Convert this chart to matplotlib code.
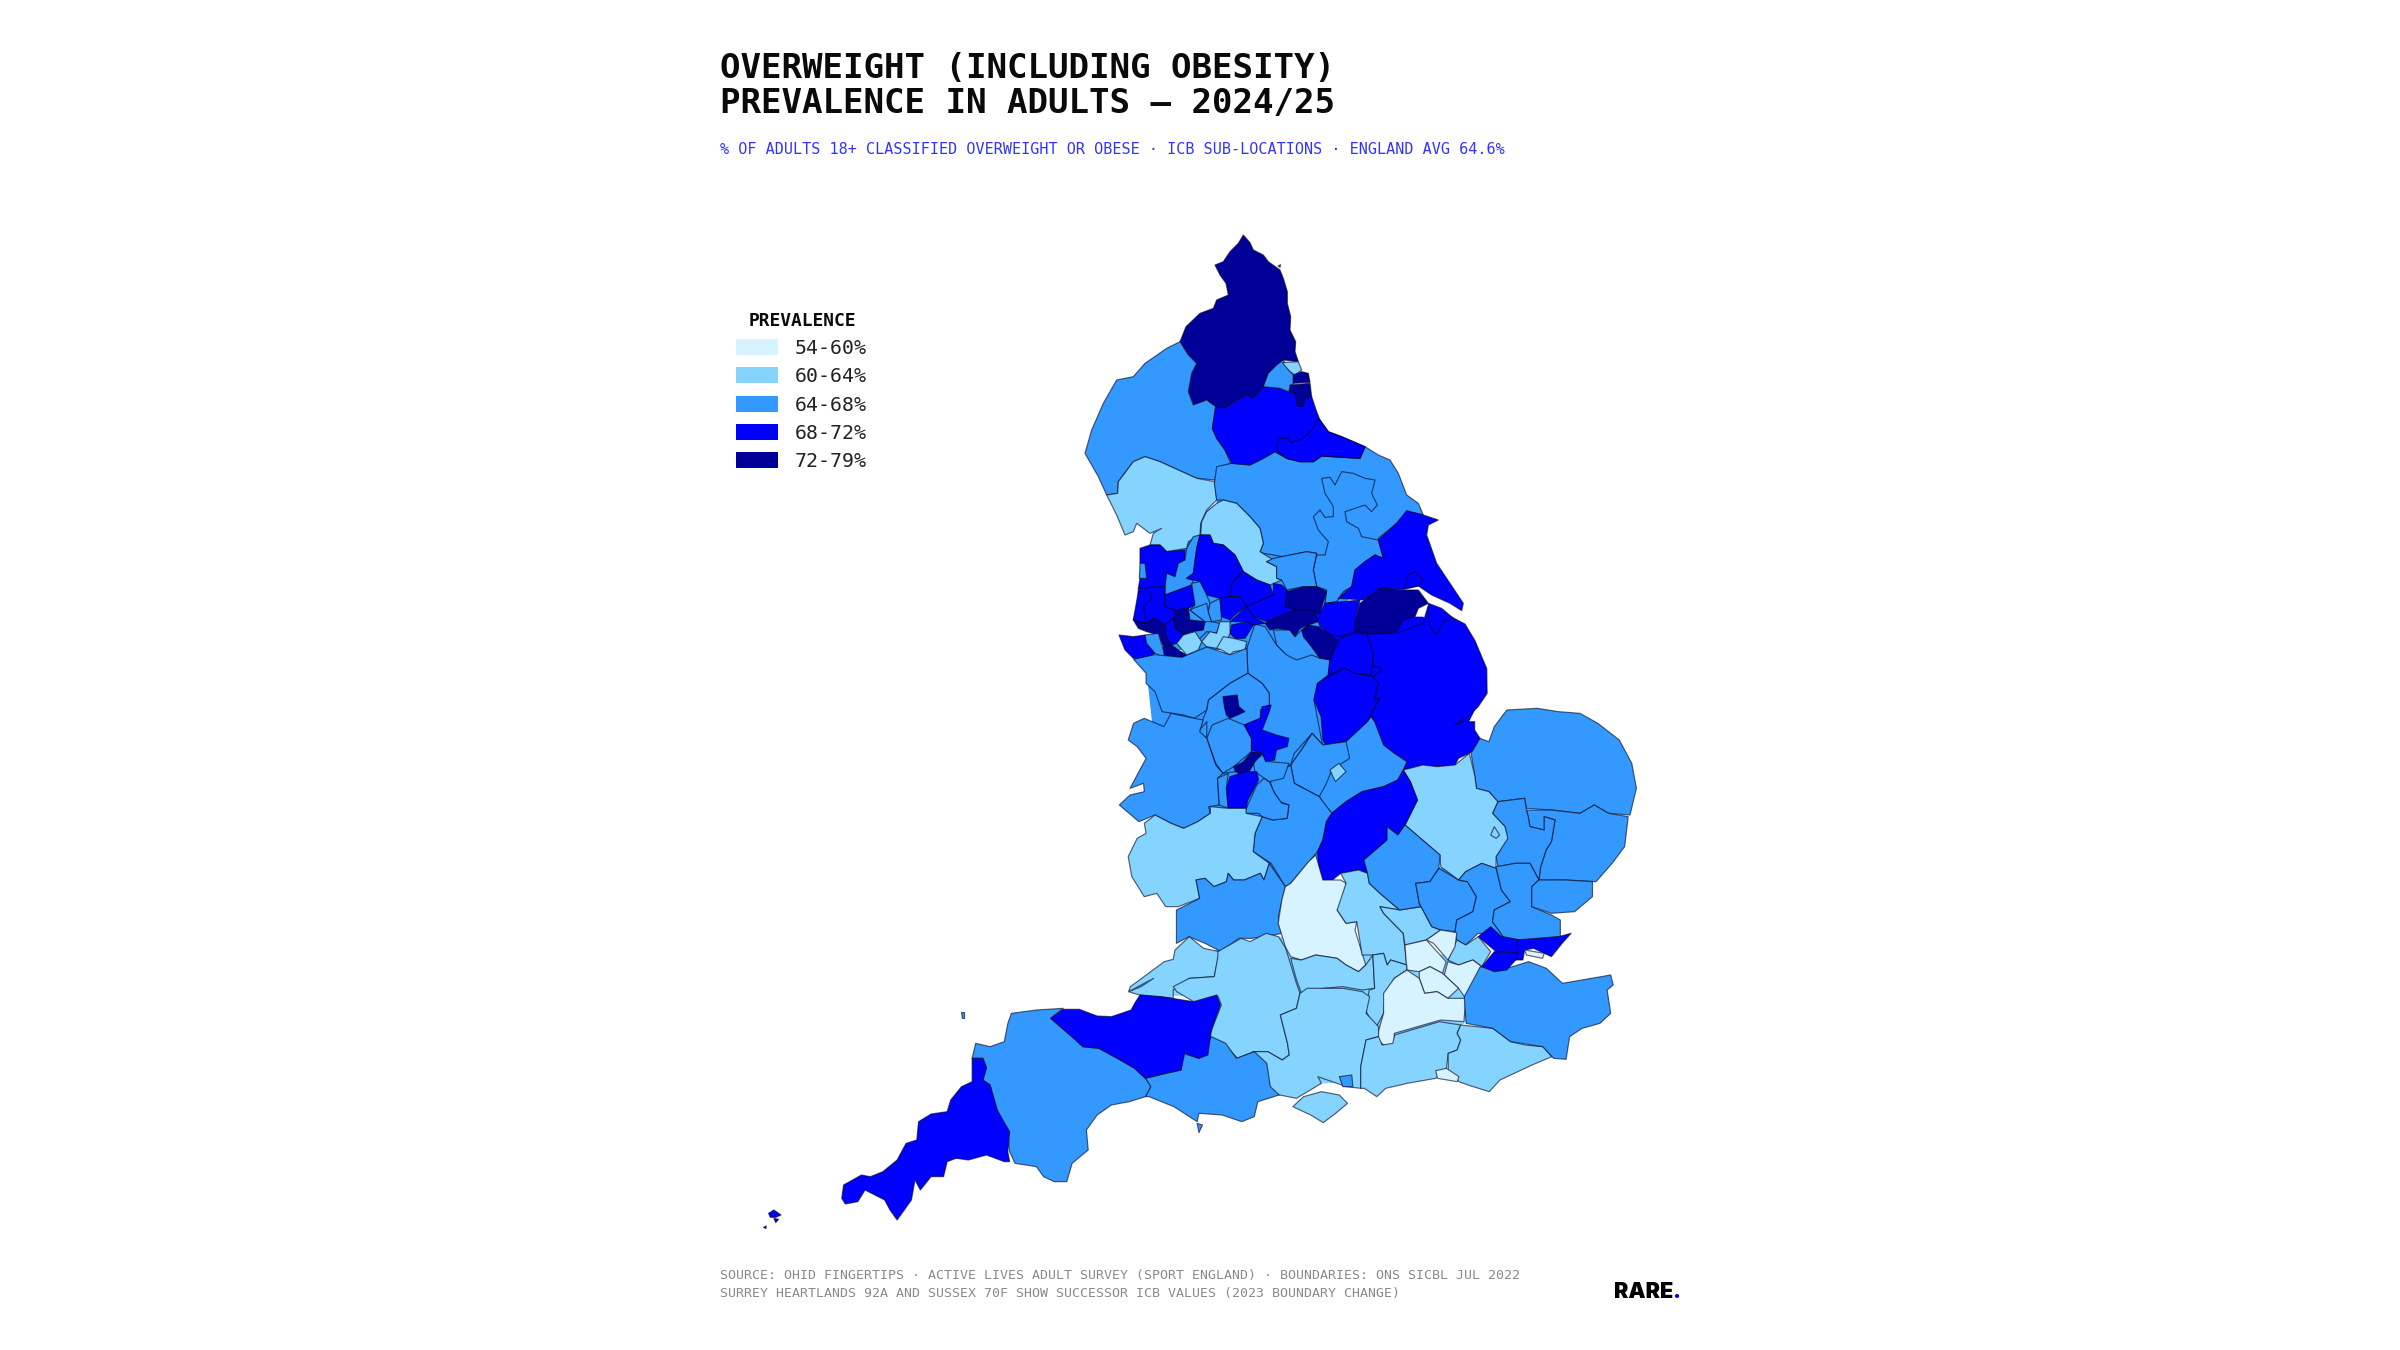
import matplotlib
matplotlib.use("Agg")
import matplotlib.pyplot as plt
from matplotlib.patches import Polygon, Rectangle

TITLE_LINES = ["OVERWEIGHT (INCLUDING OBESITY)", "PREVALENCE IN ADULTS \u2014 2024/25"]
SUBTITLE = "% OF ADULTS 18+ CLASSIFIED OVERWEIGHT OR OBESE \u00b7 ICB SUB-LOCATIONS \u00b7 ENGLAND AVG 64.6%"
FOOTER_LINES = ["SOURCE: OHID FINGERTIPS \u00b7 ACTIVE LIVES ADULT SURVEY (SPORT ENGLAND) \u00b7 BOUNDARIES: ONS SICBL JUL 2022",
                "SURREY HEARTLANDS 92A AND SUSSEX 70F SHOW SUCCESSOR ICB VALUES (2023 BOUNDARY CHANGE)"]
LEGEND_TITLE = "PREVALENCE"
BAND_LABELS = ["54-60%", "60-64%", "64-68%", "68-72%", "72-79%"]
BAND_COLOURS = ["#D6F3FF", "#85D3FF", "#3399FF", "#0000FF", "#000099"]

# Map sheets: (left, top, x scale, y scale) of each digitised sheet of the boundary data
SHEETS = {"A": (1050, 220, 3.0, 3.0), "B": (1080, 650, 2.8, 3.0),
          "C": (1100, 880, 2.8, 3.0), "D": (740, 980, 2.8, 3.0)}

# Interior land under the region outlines: (band index, sheet, outline)
LAND = [
    (2, "A", [(500,750),(1000,720),(1050,900),(900,1130),(800,1300),(600,1290),(350,1290),(290,1100),(300,1000),(500,850)]),
    (2, "B", [(190,100),(470,30),(700,100),(830,210),(900,400),(1000,650),(1150,700),(1150,850),(1000,840),(800,650),(600,700),(480,650),(350,520),(250,500),(190,470),(210,300)]),
    (3, "B", [(690,-100),(960,-100),(1100,0),(1120,150),(1040,320),(880,300),(700,280),(660,100)]),
    (1, "C", [(120,345),(340,200),(500,170),(800,200),(1070,240),(1020,430),(780,600),(480,620),(320,480),(335,350)]),
]

# Boundary data: (band index, sheet, outline), drawn in this order
R = []
def region(band, sheet, outline):
    R.append((band, sheet, outline))

# ---- North
region(4, "A", [(580,45),(600,68),(610,90),(640,105),(655,125),(690,150),(700,175),(712,215),(712,250),(722,290),(720,330),(737,365),(735,395),(745,425),(700,420),(680,435),(655,460),(640,500),(610,535),(590,525),(545,550),(525,565),(497,560),(470,540),(430,555),(415,515),(425,460),(440,430),(415,405),(390,365),(408,320),(450,280),(490,265),(500,240),(535,225),(528,190),(510,165),(495,135),(520,125),(540,95),(565,70)])
region(2, "A", [(390,365),(415,405),(440,430),(425,460),(415,515),(430,555),(470,540),(497,560),(487,625),(500,655),(525,690),(542,730),(505,745),(495,780),(440,775),(385,750),(330,725),(285,710),(250,725),(205,785),(203,820),(170,825),(145,770),(105,700),(125,630),(160,550),(200,480),(250,470),(285,430),(350,385)])
region(1, "A", [(170,825),(203,820),(205,785),(250,725),(285,710),(330,725),(385,750),(440,775),(495,785),(500,840),(470,870),(452,910),(450,945),(415,965),(410,985),(350,995),(330,975),(300,975),(310,940),(335,925),(300,940),(260,910),(250,935),(225,945),(200,885)])
region(2, "A", [(500,740),(545,730),(600,735),(640,715),(675,695),(710,715),(750,725),(790,725),(815,708),(930,715),(945,680),(985,705),(1020,720),(1045,760),(1070,825),(1105,850),(1120,885),(1070,875),(1040,910),(985,955),(1000,1015),(975,1005),(945,1025),(915,1050),(905,1100),(880,1115),(860,1145),(825,1150),(830,1115),(800,1100),(790,1050),(800,1000),(770,995),(700,1010),(640,1000),(630,995),(640,970),(630,925),(600,890),(560,850),(520,840),(500,840),(493,790)])
region(2, "A", [(815,775),(840,772),(855,795),(875,755),(910,760),(945,775),(975,780),(965,820),(982,855),(965,875),(945,855),(885,875),(890,905),(925,925),(935,950),(985,960),(1000,1015),(975,1005),(945,1025),(915,1050),(905,1100),(880,1115),(860,1145),(825,1150),(830,1110),(800,1100),(790,1050),(800,1005),(825,1005),(835,965),(805,930),(790,890),(810,870),(825,892),(850,890),(850,860),(825,820)])
region(1, "A", [(500,850),(520,840),(560,850),(600,890),(630,925),(640,970),(630,995),(670,1020),(650,1025),(680,1040),(680,1075),(695,1080),(660,1095),(620,1080),(580,1055),(555,1005),(520,975),(490,970),(480,945),(452,945),(455,905),(470,875)])
region(2, "A", [(670,1015),(770,995),(800,1000),(790,1050),(800,1100),(760,1100),(710,1110),(695,1080),(680,1075),(680,1040),(650,1025)])
region(3, "A", [(497,560),(525,565),(545,550),(590,525),(610,535),(640,500),(690,505),(715,515),(735,520),(745,558),(760,558),(765,535),(785,530),(800,575),(810,600),(835,635),(875,650),(945,680),(930,715),(815,708),(790,725),(750,725),(710,715),(675,695),(640,715),(600,735),(545,730),(525,690),(500,655),(487,625)])
region(3, "A", [(800,600),(810,600),(835,635),(875,650),(945,680),(930,715),(815,708),(790,725),(750,725),(710,715),(680,690),(685,655),(715,655),(720,668),(760,655),(790,625)])
region(2, "A", [(640,500),(655,460),(680,435),(700,420),(720,455),(730,465),(730,490),(715,515),(690,505)])
region(1, "A", [(697,428),(745,425),(755,450),(735,465),(720,455)])
region(4, "A", [(730,465),(755,455),(775,460),(780,487),(730,490)])
region(4, "A", [(720,495),(780,490),(785,530),(765,535),(760,558),(742,558),(735,520),(718,515)])
region(3, "A", [(1070,872),(1120,885),(1165,900),(1135,915),(1130,945),(1160,1030),(1200,1090),(1240,1150),(1235,1172),(1200,1150),(1145,1125),(1105,1098),(1062,1108),(1000,1105),(940,1140),(865,1135),(905,1100),(915,1050),(945,1025),(975,1005),(1000,1015),(985,960),(1040,910)])
region(3, "A", [(1065,1105),(1075,1065),(1095,1055),(1120,1080),(1105,1098)])
# ---- Lincolnshire and Yorkshire south
region(3, "B", [(803,-48),(887,-50),(960,-80),(974,-130),(1012,-115),(1078,-78),(1106,-28),(1139,56),(1140,130),(1115,170),(1085,200),(1050,225),(1075,215),(1105,215),(1105,240),(1120,265),(1110,295),(1090,310),(1060,325),(1050,345),(1000,350),(960,345),(905,360),(915,335),(880,310),(850,285),(825,215),(815,190),(840,145),(825,150),(835,100),(820,80),(845,60),(835,50),(821,50),(821,8)])
region(3, "A", [(1135,1150),(1175,1165),(1210,1195),(1180,1205),(1160,1245),(1140,1220),(1135,1180)])
region(4, "A", [(990,1105),(1010,1105),(1060,1110),(1105,1110),(1135,1150),(1105,1165),(1095,1190),(1060,1200),(1040,1235),(1005,1240),(950,1240),(915,1235),(915,1210),(930,1150)])
region(3, "A", [(825,1150),(930,1140),(915,1210),(915,1235),(870,1250),(845,1245),(810,1220),(805,1205),(790,1170),(810,1180)])
# ---- Midlands base
region(2, "B", [(490,-78),(518,-70),(551,-14),(579,14),(649,14),(672,22),(700,28),(695,75),(665,100),(655,150),(680,290),(650,250),(600,310),(590,345),(530,385),(500,330),(480,260),(460,225),(505,205),(530,165),(530,130),(510,100),(470,70),(467,-5)])
region(2, "A", [(670,1230),(720,1230),(735,1250),(755,1230),(785,1280),(810,1315),(785,1305),(740,1320),(710,1305),(680,1275)])
region(3, "B", [(728,-35),(770,-50),(803,-48),(821,8),(815,75),(770,70),(740,55),(695,75),(700,28)])
region(3, "B", [(665,100),(740,55),(770,70),(820,80),(835,100),(825,150),(840,145),(815,190),(805,215),(770,250),(745,275),(690,290),(680,270),(675,200),(655,150)])
# ---- Pennine belt
region(3, "A", [(270,985),(300,975),(330,975),(350,995),(405,990),(405,1020),(385,1030),(375,1070),(350,1060),(345,1100),(265,1105),(270,1075),(290,1075),(285,1030),(270,1030)])
region(2, "A", [(270,1030),(285,1030),(290,1075),(268,1075)])
region(2, "A", [(345,1105),(350,1060),(375,1070),(385,1030),(405,1020),(410,985),(430,950),(450,945),(440,985),(430,1060),(410,1075),(430,1080),(425,1095),(345,1125)])
region(3, "A", [(450,945),(480,945),(490,970),(520,975),(555,1005),(580,1055),(545,1090),(540,1130),(510,1135),(470,1125),(450,1085),(410,1075),(430,1060),(440,985)])
region(3, "A", [(580,1055),(620,1080),(660,1095),(670,1125),(590,1160),(570,1130),(540,1130),(545,1090)])
region(3, "A", [(670,1090),(695,1095),(715,1115),(705,1160),(740,1170),(650,1205),(610,1190),(590,1160),(670,1125)])
region(4, "A", [(710,1115),(760,1100),(800,1100),(830,1115),(820,1145),(810,1180),(740,1170),(705,1160)])
region(4, "A", [(645,1210),(705,1180),(740,1170),(790,1170),(805,1205),(775,1215),(750,1225),(735,1250),(720,1230),(680,1225),(660,1230)])
region(4, "A", [(755,1230),(775,1215),(805,1220),(860,1260),(840,1320),(810,1315),(785,1280),(760,1250)])
region(3, "A", [(265,1105),(345,1100),(345,1160),(375,1170),(370,1195),(345,1215),(310,1195),(290,1210),(250,1200),(265,1145)])
region(3, "A", [(265,1115),(300,1115),(305,1135),(280,1160),(290,1210),(250,1200)])
region(3, "A", [(345,1125),(400,1105),(425,1095),(435,1155),(415,1165),(375,1170),(345,1160)])
region(2, "A", [(425,1090),(450,1085),(470,1125),(480,1150),(475,1175),(485,1205),(510,1210),(500,1240),(470,1235),(445,1260),(425,1235),(465,1205),(420,1170),(435,1155)])
region(2, "A", [(430,1165),(470,1150),(475,1175),(485,1205),(465,1205),(420,1170)])
region(2, "A", [(480,1150),(510,1135),(515,1200),(485,1205),(475,1175)])
region(3, "A", [(510,1135),(540,1130),(570,1130),(590,1160),(560,1180),(540,1200),(515,1190)])
region(3, "A", [(540,1205),(590,1160),(610,1190),(645,1210),(610,1215),(590,1205)])
region(3, "A", [(545,1215),(590,1205),(610,1215),(585,1255),(555,1255),(540,1240)])
region(4, "A", [(375,1170),(415,1165),(420,1200),(465,1205),(460,1230),(425,1235),(400,1245),(375,1225),(370,1195)])
region(4, "A", [(250,1200),(290,1210),(310,1195),(345,1215),(350,1250),(365,1275),(345,1290),(325,1245),(290,1235),(265,1225)])
region(3, "A", [(345,1215),(370,1195),(375,1225),(400,1245),(380,1270),(365,1275),(350,1250)])
region(4, "A", [(330,1285),(365,1275),(385,1290),(410,1305),(395,1315),(345,1315)])
region(3, "A", [(207,1245),(250,1250),(285,1245),(290,1270),(315,1300),(285,1320),(250,1315),(225,1290)])
region(2, "A", [(285,1245),(325,1240),(340,1290),(345,1315),(315,1300),(290,1270)])
region(1, "A", [(380,1270),(400,1245),(435,1235),(455,1265),(445,1290),(410,1305)])
region(1, "A", [(455,1265),(480,1235),(500,1240),(510,1205),(540,1205),(540,1240),(520,1290),(500,1285),(470,1280)])
region(1, "A", [(500,1285),(520,1250),(550,1255),(590,1265),(585,1290),(550,1295),(540,1305),(515,1290)])
region(2, "B", [(150,28),(210,14),(285,22),(355,-9),(420,14),(467,-5),(470,70),(420,100),(360,150),(355,180),(320,205),(290,195),(230,185),(210,125),(185,100),(185,70)])
# ---- East
region(2, "B", [(1095,310),(1120,265),(1145,275),(1160,230),(1195,180),(1280,175),(1340,185),(1400,190),(1450,220),(1510,270),(1545,340),(1558,415),(1540,495),(1480,490),(1440,465),(1400,490),(1320,480),(1250,475),(1245,445),(1170,455),(1145,425),(1110,415),(1105,375)])
region(2, "B", [(1250,480),(1320,480),(1400,490),(1440,465),(1480,490),(1535,500),(1525,590),(1490,640),(1445,695),(1360,690),(1310,690),(1285,690),(1290,650),(1305,600),(1320,575),(1330,510),(1300,500),(1300,540),(1260,530),(1255,500)])
region(2, "B", [(1170,455),(1245,445),(1250,480),(1255,500),(1260,530),(1300,540),(1300,500),(1330,510),(1320,575),(1305,600),(1290,650),(1285,690),(1260,640),(1220,640),(1170,650),(1165,620),(1195,565),(1190,530),(1155,490)])
region(1, "B", [(905,360),(960,345),(1000,350),(1050,345),(1090,310),(1105,375),(1110,415),(1145,425),(1170,455),(1155,490),(1190,530),(1198,565),(1165,620),(1165,655),(1125,640),(1080,665),(1060,690),(1010,650),(1008,615),(970,580),(910,525),(945,450),(925,395)])
region(1, "B", [(1150,555),(1160,530),(1175,555),(1165,565)])
region(2, "B", [(815,200),(825,215),(850,285),(880,310),(915,335),(905,360),(890,390),(850,410),(790,425),(745,455),(705,490),(685,465),(670,440),(600,400),(590,345),(620,300),(650,250),(680,285),(745,275),(770,250),(805,215)])
region(2, "B", [(650,250),(680,285),(745,275),(755,325),(705,360),(690,400),(670,440),(600,400),(590,345),(620,300)])
region(1, "B", [(700,360),(725,340),(745,365),(715,395)])
region(2, "B", [(530,385),(590,345),(600,400),(670,440),(705,490),(690,515),(680,570),(665,605),(590,700),(575,710),(535,640),(485,605),(490,550),(510,500),(540,510),(580,505),(585,465),(560,455),(540,420)])
region(2, "B", [(515,385),(530,395),(545,430),(565,460),(585,465),(580,505),(540,510),(510,500),(500,490),(460,490),(470,465),(495,405)])
region(2, "B", [(485,335),(510,315),(530,335),(585,340),(570,385),(530,395),(490,365)])
region(2, "B", [(360,150),(420,100),(470,70),(510,100),(530,130),(530,165),(505,180),(505,205),(460,225),(480,265),(480,305),(435,365),(400,370),(380,345),(355,265),(355,215),(335,240),(345,205),(355,180)])
region(2, "B", [(355,265),(370,225),(415,205),(460,225),(480,265),(480,305),(430,350),(400,370),(380,340)])
region(2, "B", [(135,270),(150,220),(180,205),(235,230),(255,190),(320,205),(345,210),(335,245),(355,265),(380,345),(400,370),(385,385),(390,465),(360,470),(365,490),(330,515),(290,535),(255,520),(210,495),(165,515),(110,465),(140,435),(180,425),(178,400),(140,415),(175,345),(185,325),(160,290)])
region(2, "B", [(385,385),(415,370),(410,415),(415,475),(390,465)])
region(3, "B", [(460,225),(505,205),(510,170),(535,165),(530,185),(510,240),(550,255),(585,265),(580,290),(550,300),(545,330),(520,335),(510,310),(480,300),(480,265)])
region(4, "B", [(400,140),(440,135),(445,170),(462,185),(420,205),(410,195),(405,175)])
region(4, "B", [(460,335),(480,305),(510,310),(490,335),(465,380),(435,365),(430,350)])
region(3, "B", [(420,380),(465,365),(495,365),(500,390),(470,450),(465,475),(415,475),(410,415)])
region(3, "B", [(890,390),(905,360),(925,395),(945,450),(910,525),(890,555),(860,530),(860,570),(795,630),(805,670),(780,660),(730,670),(695,700),(675,695),(668,645),(665,605),(680,570),(690,515),(705,490),(745,455),(790,425),(850,410)])
# ---- South Midlands and Thames
region(1, "B", [(210,495),(255,520),(290,535),(330,515),(365,490),(365,470),(415,475),(465,475),(465,490),(510,500),(490,550),(485,605),(530,640),(515,690),(505,670),(460,690),(430,690),(415,670),(410,695),(375,710),(350,685),(325,690),(335,745),(275,770),(240,770),(215,730),(180,740),(145,680),(135,620),(160,565),(185,550),(180,520)])
region(2, "B", [(325,690),(350,685),(375,710),(410,695),(415,670),(430,690),(460,690),(505,670),(515,690),(530,640),(575,710),(555,800),(565,850),(520,860),(480,865),(445,865),(395,905),(350,880),(305,860),(270,880),(270,780),(335,745)])
region(1, "C", [(210,210),(250,170),(290,205),(335,215),(320,290),(250,295),(205,330),(205,355),(110,345),(80,335),(150,295),(115,320),(80,335),(85,320),(180,245),(205,238)])
region(1, "C", [(330,215),(395,175),(420,185),(465,160),(500,170),(520,205),(530,240),(550,310),(560,340),(550,385),(505,405),(525,490),(530,525),(510,540),(470,515),(430,515),(385,535),(345,490),(305,470),(340,375),(330,348),(270,370),(215,335),(205,320),(250,295),(320,290),(330,230)])
region(0, "B", [(575,710),(590,700),(640,635),(660,615),(680,690),(730,690),(745,700),(735,760),(720,780),(745,820),(775,815),(770,840),(800,945),(780,965),(745,945),(720,925),(660,915),(620,930),(590,920),(575,890),(555,820),(565,750)])
region(1, "B", [(730,670),(780,660),(805,670),(810,700),(840,730),(895,780),(840,770),(850,790),(905,850),(915,945),(870,930),(860,945),(850,910),(820,915),(790,915),(775,815),(745,820),(720,780),(745,700)])
region(1, "B", [(840,770),(895,780),(955,770),(985,830),(1010,840),(970,870),(910,885),(905,850),(850,790)])
region(2, "B", [(805,670),(795,630),(860,570),(860,530),(890,555),(910,525),(970,580),(1008,615),(1005,655),(980,695),(940,700),(950,760),(955,770),(895,780),(840,730),(810,700)])
region(2, "B", [(940,700),(980,695),(1005,655),(1060,690),(1085,695),(1110,740),(1100,785),(1055,810),(1050,845),(1010,840),(985,830),(950,760)])
region(2, "B", [(1060,690),(1080,665),(1125,640),(1165,655),(1180,720),(1205,755),(1160,780),(1155,815),(1185,860),(1115,850),(1080,885),(1055,870),(1050,845),(1055,810),(1100,785),(1110,740),(1085,695)])
region(2, "B", [(1165,650),(1220,640),(1260,640),(1285,690),(1265,710),(1265,770),(1320,795),(1345,810),(1345,860),(1230,870),(1185,860),(1155,815),(1160,780),(1205,755),(1180,720)])
region(2, "B", [(1285,690),(1360,690),(1435,695),(1435,740),(1385,785),(1320,790),(1265,770),(1265,710)])
region(3, "B", [(1150,830),(1180,860),(1230,870),(1225,910),(1165,905),(1115,860)])
region(3, "B", [(1225,870),(1340,860),(1375,850),(1350,880),(1320,920),(1270,895),(1245,900),(1240,930),(1220,930)])
region(0, "B", [(1245,900),(1300,910),(1295,925),(1250,915)])
region(1, "B", [(1055,870),(1080,885),(1115,860),(1150,905),(1125,950),(1100,930),(1060,945),(1030,930)])
region(0, "B", [(970,870),(1010,840),(1055,848),(1050,890),(1030,930),(990,880)])
region(0, "B", [(910,885),(970,870),(1025,935),(1015,970),(980,950),(950,965),(915,960)])
region(0, "B", [(1030,935),(1060,945),(1100,930),(1125,950),(1105,1000),(1080,1045),(1060,1015),(1020,975)])
region(0, "B", [(950,965),(980,950),(1015,970),(1060,1015),(1030,1045),(1000,1025),(965,1030),(950,985)])
region(1, "B", [(590,925),(620,930),(660,915),(720,925),(745,945),(780,965),(800,945),(820,915),(825,1015),(790,1020),(735,1010),(680,1015),(620,1030),(605,985)])
region(1, "B", [(820,915),(850,910),(860,945),(870,930),(915,945),(915,960),(880,985),(855,1030),(850,1090),(830,1130),(815,1115),(800,1080),(810,1020),(825,1015)])
region(0, "B", [(850,1030),(880,985),(915,960),(950,985),(965,1030),(1000,1025),(1030,1045),(1080,1045),(1075,1115),(1010,1110),(880,1150),(880,1185),(855,1190),(830,1165),(850,1090)])
# ---- South coast
region(1, "C", [(505,405),(550,385),(560,340),(580,325),(680,325),(735,335),(755,350),(745,400),(780,440),(780,470),(745,480),(730,560),(730,625),(690,620),(610,590),(620,610),(550,655),(480,640),(465,570),(430,515),(470,515),(510,540),(530,525),(525,490)])
region(2, "C", [(670,590),(705,585),(708,620),(680,620)])
region(1, "C", [(745,480),(780,470),(790,495),(820,490),(825,465),(950,425),(1010,435),(1000,460),(1010,480),(1000,510),(975,520),(970,565),(940,595),(860,610),(800,625),(775,650),(740,625),(730,625),(730,560)])
region(1, "C", [(1010,435),(1100,445),(1150,485),(1190,495),(1240,500),(1265,530),(1210,555),(1120,600),(1090,635),(1030,615),(1005,605),(975,570),(975,520),(1000,510),(1010,480),(1000,460)])
region(0, "C", [(940,572),(970,565),(1005,590),(1000,605),(945,595)])
region(2, "C", [(1065,260),(1110,270),(1140,265),(1200,245),(1250,265),(1295,310),(1430,285),(1437,315),(1420,330),(1430,400),(1400,430),(1350,445),(1315,470),(1305,538),(1270,535),(1240,500),(1150,485),(1100,445),(1025,430),(1020,350)])
region(3, "B", [(1160,905),(1225,910),(1220,930),(1195,960),(1160,965),(1125,950)])
region(1, "C", [(540,680),(570,650),(620,635),(670,645),(693,670),(660,700),(625,728),(590,705)])
# ---- South West
region(2, "D", [(1135,295),(1235,270),(1240,220),(1285,235),(1320,170),(1360,190),(1390,235),(1440,215),(1475,250),(1485,320),(1510,345),(1450,365),(1440,410),(1405,425),(1350,405),(1285,400),(1280,425),(1215,380),(1145,350),(1135,350),(1150,320)])
region(2, "D", [(1280,430),(1295,435),(1285,458)])
region(2, "D", [(760,100),(830,90),(905,85),(870,115),(940,180),(960,200),(1005,205),(1065,240),(1105,265),(1135,295),(1150,320),(1135,350),(1090,365),(1040,375),(1000,405),(970,450),(975,510),(930,550),(915,605),(880,605),(850,590),(830,560),(770,550),(755,515),(750,460),(720,390),(700,315),(680,300),(690,260),(680,235),(650,235),(660,190),(700,200),(740,185),(750,130)])
region(3, "D", [(870,115),(905,88),(950,88),(1000,108),(1040,110),(1095,90),(1105,70),(1120,45),(1180,50),(1270,65),(1335,45),(1345,75),(1320,150),(1310,225),(1285,235),(1245,220),(1235,270),(1190,280),(1135,295),(1105,265),(1065,240),(1005,205),(960,200),(940,180)])
region(3, "D", [(650,235),(680,235),(690,265),(680,300),(700,315),(720,390),(755,455),(750,515),(755,545),(740,545),(690,525),(640,540),(605,535),(580,545),(570,590),(535,590),(505,630),(490,600),(480,660),(440,720),(420,690),(405,660),(350,630),(330,665),(295,672),(285,655),(290,615),(340,585),(365,590),(400,575),(440,540),(465,490),(495,480),(500,425),(535,402),(580,395),(590,360),(620,320),(650,305)])
region(2, "D", [(620,95),(626,95),(626,115),(621,115)])
region(3, "D", [(80,700),(95,690),(115,705),(100,712),(85,712)])
region(3, "D", [(95,715),(108,718),(100,728)])
region(3, "D", [(66,742),(74,738),(72,746)])
region(2, "A", [(684,138),(692,134),(690,142)])

fig = plt.figure(figsize=(24, 13.5), dpi=100, facecolor="white")
ax = fig.add_axes([0, 0, 1, 1])
ax.set_xlim(0, 2400)
ax.set_ylim(1350, 0)
ax.axis("off")

def to_map(sheet, outline):
    x0, y0, sx, sy = SHEETS[sheet]
    return [(x0 + px / sx, y0 + py / sy) for px, py in outline]

for band, sheet, outline in LAND:
    ax.add_patch(Polygon(to_map(sheet, outline), closed=True, facecolor=BAND_COLOURS[band], edgecolor="none"))

EDGE = (0.02, 0.02, 0.12, 0.62)
for band, sheet, outline in R:
    ax.add_patch(Polygon(to_map(sheet, outline), closed=True, facecolor=BAND_COLOURS[band], edgecolor=EDGE,
                         linewidth=0.85, joinstyle="round"))

MONO = "DejaVu Sans Mono"
for y, line in zip([68, 104], TITLE_LINES):
    ax.text(720, y, line, family=MONO, weight="bold", size=24.6, color="#0A0A0A", va="center", ha="left")
ax.text(720, 149.5, SUBTITLE, family=MONO, size=10.9, color="#3333FF", va="center", ha="left")
for y, line in zip([1275.5, 1293], FOOTER_LINES):
    ax.text(720, y, line, family=MONO, size=9.53, color="#8A8A8A", va="center", ha="left")

ax.text(802, 321.5, LEGEND_TITLE, family=MONO, weight="bold", size=12.9, color="#0A0A0A", va="center", ha="center")
for y, colour, label in zip([347, 375, 404, 432, 460], BAND_COLOURS, BAND_LABELS):
    ax.add_patch(Rectangle((736, y - 8), 42, 16, facecolor=colour, edgecolor="none"))
    ax.text(795, y + 1.5, label, family=MONO, size=14.3, color="#222222", va="center", ha="left")

ax.text(1614, 1297.5, "RARE", family="Inter", weight="black", size=15.6, color="#000000", va="baseline", ha="left")
ax.text(1672, 1297.5, ".", family="Inter", weight="black", size=15.6, color="#0000FF", va="baseline", ha="left")

fig.savefig("out.png", dpi=100, facecolor="white")
